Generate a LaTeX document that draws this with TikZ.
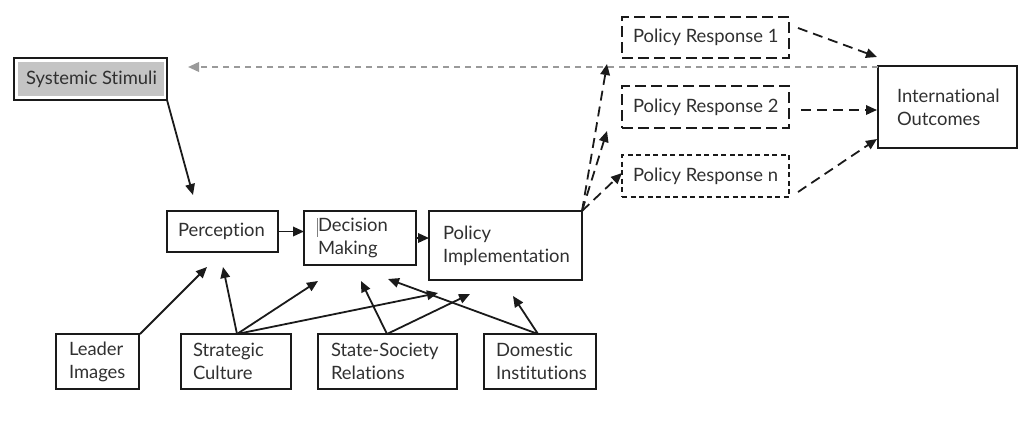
\documentclass[tikz,border=0pt]{standalone}
\usepackage{fontspec}
\setmainfont{Lato}[Ligatures={NoCommon,NoRequired,NoContextual}]
\usetikzlibrary{arrows.meta}
\definecolor{linec}{HTML}{1A1A1A}
\definecolor{textc}{HTML}{303030}
\definecolor{ssgray}{HTML}{C4C4C4}
\definecolor{dgray}{HTML}{9A9A9A}
\begin{document}
\begin{tikzpicture}[x=1pt,y=-1pt,
  every node/.style={inner sep=0pt, outer sep=0pt},
  frame/.style={draw=linec, line width=2.2pt},
  dframe/.style={frame, dash pattern=on 11pt off 5pt},
  dotframe/.style={frame, dash pattern=on 5pt off 3.5pt},
  lbl/.style={anchor=west, align=left, text=textc, font=\fontsize{18.4}{23}\selectfont},
  arr/.style={draw=linec, line width=1.8pt, -{Triangle[length=11pt,width=9.5pt]}},
  darr/.style={arr, dash pattern=on 10pt off 6pt},
  garr/.style={draw=dgray, line width=2pt, dash pattern=on 6pt off 5pt, -{Triangle[length=11pt,width=9.5pt]}}]
\useasboundingbox (0,0) rectangle (1024,424);

% Systemic Stimuli
\node[frame, line width=2.6pt, minimum width=153pt, minimum height=42pt] (SS) at (90.5,79) {};
\fill[ssgray] ([shift={(4,4)}]SS.north west) rectangle ([shift={(-3,-4)}]SS.south east);
\node[lbl] (SSt) at ([xshift=12pt]SS.west) {Systemic Stimuli};

% main chain
\node[frame, minimum width=111pt, minimum height=41pt] (Perc) at (222.5,231.5) {};
\node[lbl] (Perct) at ([xshift=11pt]Perc.west) {Perception};
\node[frame, minimum width=112pt, minimum height=54pt] (DM) at (360,238) {};
\node[lbl] (DMt) at ([xshift=14pt]DM.west) {Decision\\Making};
\node[frame, minimum width=153pt, minimum height=69pt] (PI) at (505.5,245.5) {};
\node[lbl] (PIt) at ([xshift=14pt]PI.west) {Policy\\Implementation};
\draw[line width=0.6pt, gray] (317,218) -- (317,237);

% bottom factors
\node[frame, minimum width=83pt, minimum height=55pt] (LI) at (97.5,361.5) {};
\node[lbl] (LIt) at ([xshift=13pt]LI.west) {Leader\\Images};
\node[frame, minimum width=110pt, minimum height=55pt] (SC) at (236,361.5) {};
\node[lbl] (SCt) at ([xshift=12pt]SC.west) {Strategic\\Culture};
\node[frame, minimum width=139pt, minimum height=55pt] (SSR) at (387.5,361.5) {};
\node[lbl] (SSRt) at ([xshift=13pt]SSR.west) {State-Society\\Relations};
\node[frame, minimum width=112pt, minimum height=55pt] (DI) at (540,361.5) {};
\node[lbl] (DIt) at ([xshift=12pt]DI.west) {Domestic\\Institutions};

% responses
\node[dframe, minimum width=167pt, minimum height=41pt] (PR1) at (705.5,37.5) {};
\node[lbl] (PR1t) at ([xshift=11pt]PR1.west) {Policy Response 1};
\node[dframe, minimum width=167pt, minimum height=42pt] (PR2) at (705.5,107) {};
\node[lbl] (PR2t) at ([xshift=11pt]PR2.west) {Policy Response 2};
\node[dotframe, minimum width=167pt, minimum height=42pt] (PRn) at (705.5,176) {};
\node[lbl] (PRnt) at ([xshift=11pt]PRn.west) {Policy Response n};

\node[frame, minimum width=139pt, minimum height=82pt] (IO) at (947.5,107) {};
\node[lbl] (IOt) at ([xshift=19pt]IO.west) {International\\Outcomes};

% free ends
\coordinate (pA) at (193,195);
\coordinate (tR1) at (607,64);
\coordinate (tR2) at (607,131);
\coordinate (tRn) at (622,173);
\coordinate (s1) at (798,28);
\coordinate (e1) at (877,57);
\coordinate (s2) at (801,110);
\coordinate (e2) at (877,110);
\coordinate (sn) at (798,192);
\coordinate (en) at (877,139);
\coordinate (gS) at (878,67);
\coordinate (gE) at (188,67);
\coordinate (oLI) at (140,334);
\coordinate (tLI) at (207,267);
\coordinate (oSC) at (237,334);
\coordinate (tSC1) at (223,267);
\coordinate (tSC2) at (318,281);
\coordinate (tSC3) at (438,293);
\coordinate (oSSR) at (387,334);
\coordinate (tSSR1) at (361,281);
\coordinate (tSSR2) at (470,294);
\coordinate (oDI) at (538,334);
\coordinate (tDI1) at (388,279);
\coordinate (tDI2) at (513,296);

\draw[garr] (gS) -- (gE);
\draw[arr] (SS.south east) -- (pA);
\draw[arr] (Perc.east) -- (Perc.east -| DM.west);
\draw[arr] (DM.east) -- (DM.east -| PI.west);

\draw[darr] (PI.north east) -- (tR1);
\draw[darr] (PI.north east) -- (tR2);
\draw[darr] (PI.north east) -- (tRn);
\draw[darr] (s1) -- (e1);
\draw[darr] (s2) -- (e2);
\draw[darr] (sn) -- (en);

\draw[arr] (oLI) -- (tLI);
\draw[arr] (oSC) -- (tSC1);
\draw[arr] (oSC) -- (tSC2);
\draw[arr] (oSC) -- (tSC3);
\draw[arr] (oSSR) -- (tSSR1);
\draw[arr] (oSSR) -- (tSSR2);
\draw[arr] (oDI) -- (tDI1);
\draw[arr] (oDI) -- (tDI2);
\end{tikzpicture}
\end{document}
